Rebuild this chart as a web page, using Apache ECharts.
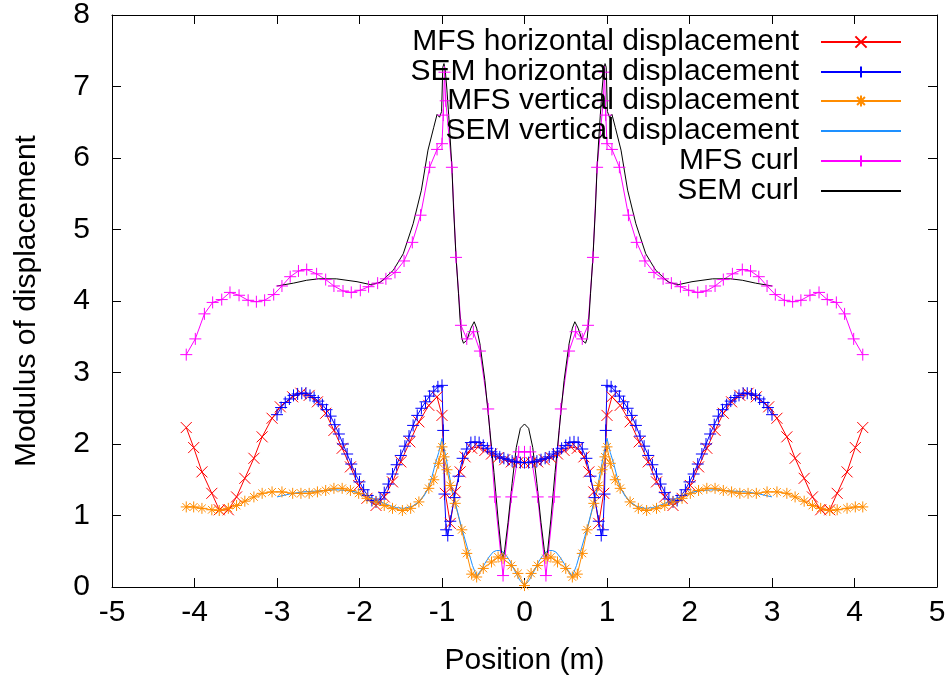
<!DOCTYPE html>
<html><head><meta charset="utf-8">
<script src="https://cdn.jsdelivr.net/npm/echarts@6/dist/echarts.min.js"></script>
<style>html,body{margin:0;padding:0;background:#fff}#c{width:951px;height:683px}</style>
</head><body><div id="c"></div>
<script>
const seriesNames = ['MFS horizontal displacement','SEM horizontal displacement','MFS vertical displacement','SEM vertical displacement','MFS curl','SEM curl'];
const xTickValues = [-5,-4,-3,-2,-1,0,1,2,3,4,5];
const yTickValues = [0,1,2,3,4,5,6,7,8];

const mfsHorizontal = [[-4.10,2.23],[-4.01,1.95],[-3.91,1.61],[-3.79,1.31],[-3.70,1.08],[-3.59,1.08],[-3.49,1.26],[-3.39,1.52],[-3.28,1.80],[-3.18,2.10],[-3.06,2.36],[-2.96,2.52],[-2.81,2.66],[-2.71,2.71],[-2.61,2.68],[-2.51,2.59],[-2.41,2.43],[-2.31,2.19],[-2.21,1.94],[-2.11,1.68],[-2.01,1.42],[-1.91,1.24],[-1.80,1.14],[-1.70,1.26],[-1.60,1.47],[-1.50,1.75],[-1.39,2.03],[-1.28,2.31],[-1.16,2.54],[-1.06,2.66],[-1.00,2.40],[-0.96,1.31],[-0.90,0.89],[-0.84,1.33],[-0.78,1.61],[-0.72,1.82],[-0.64,1.94],[-0.56,1.96],[-0.48,1.91],[-0.40,1.86],[-0.32,1.81],[-0.24,1.78],[-0.16,1.75],[-0.08,1.74],
[0.00,1.74],
[0.08,1.74],[0.16,1.75],[0.24,1.78],[0.32,1.81],[0.40,1.86],[0.48,1.91],[0.56,1.96],[0.64,1.94],[0.72,1.82],[0.78,1.61],[0.84,1.33],[0.90,0.89],[0.96,1.31],[1.00,2.40],[1.06,2.66],[1.16,2.54],[1.28,2.31],[1.39,2.03],[1.50,1.75],[1.60,1.47],[1.70,1.26],[1.80,1.14],[1.91,1.24],[2.01,1.42],[2.11,1.68],[2.21,1.94],[2.31,2.19],[2.41,2.43],[2.51,2.59],[2.61,2.68],[2.71,2.71],[2.81,2.66],[2.96,2.52],[3.06,2.36],[3.18,2.10],[3.28,1.80],[3.39,1.52],[3.49,1.26],[3.59,1.08],[3.70,1.08],[3.79,1.31],[3.91,1.61],[4.01,1.95],[4.10,2.23]];

const semHorizontal = [[-3.00,2.41],[-2.95,2.51],[-2.90,2.58],[-2.85,2.63],[-2.80,2.68],[-2.75,2.70],[-2.70,2.71],[-2.65,2.71],[-2.60,2.68],[-2.55,2.65],[-2.50,2.60],[-2.45,2.55],[-2.40,2.48],[-2.35,2.39],[-2.30,2.27],[-2.25,2.14],[-2.20,2.00],[-2.15,1.86],[-2.10,1.72],[-2.05,1.58],[-2.00,1.47],[-1.95,1.36],[-1.90,1.28],[-1.85,1.21],[-1.80,1.19],[-1.75,1.23],[-1.70,1.32],[-1.65,1.44],[-1.60,1.58],[-1.55,1.71],[-1.50,1.84],[-1.45,1.97],[-1.40,2.11],[-1.35,2.26],[-1.30,2.40],[-1.25,2.50],[-1.20,2.59],[-1.15,2.67],[-1.10,2.74],[-1.05,2.80],[-1.00,2.82],[-0.985,2.19],[-0.97,1.30],[-0.95,0.80],[-0.93,0.72],[-0.90,0.92],[-0.85,1.25],[-0.80,1.55],[-0.75,1.80],[-0.70,1.93],[-0.65,2.02],[-0.60,2.03],[-0.55,2.02],[-0.50,1.98],[-0.45,1.94],[-0.40,1.89],[-0.35,1.86],[-0.30,1.82],[-0.25,1.80],[-0.20,1.78],[-0.15,1.76],[-0.10,1.75],[-0.05,1.74],
[0.00,1.74],
[0.05,1.74],[0.10,1.75],[0.15,1.76],[0.20,1.78],[0.25,1.80],[0.30,1.82],[0.35,1.86],[0.40,1.89],[0.45,1.94],[0.50,1.98],[0.55,2.02],[0.60,2.03],[0.65,2.02],[0.70,1.93],[0.75,1.80],[0.80,1.55],[0.85,1.25],[0.90,0.92],[0.93,0.72],[0.95,0.80],[0.97,1.30],[0.985,2.19],[1.00,2.82],[1.05,2.80],[1.10,2.74],[1.15,2.67],[1.20,2.59],[1.25,2.50],[1.30,2.40],[1.35,2.26],[1.40,2.11],[1.45,1.97],[1.50,1.84],[1.55,1.71],[1.60,1.58],[1.65,1.44],[1.70,1.32],[1.75,1.23],[1.80,1.19],[1.85,1.21],[1.90,1.28],[1.95,1.36],[2.00,1.47],[2.05,1.58],[2.10,1.72],[2.15,1.86],[2.20,2.00],[2.25,2.14],[2.30,2.27],[2.35,2.39],[2.40,2.48],[2.45,2.55],[2.50,2.60],[2.55,2.65],[2.60,2.68],[2.65,2.71],[2.70,2.71],[2.75,2.70],[2.80,2.68],[2.85,2.63],[2.90,2.58],[2.95,2.51],[3.00,2.41]];

const mfsVertical = [[-4.10,1.12],[-4.01,1.12],[-3.91,1.10],[-3.79,1.08],[-3.70,1.07],[-3.59,1.10],[-3.49,1.14],[-3.39,1.20],[-3.28,1.26],[-3.18,1.31],[-3.06,1.33],[-2.94,1.33],[-2.81,1.31],[-2.71,1.31],[-2.61,1.31],[-2.51,1.33],[-2.41,1.35],[-2.31,1.38],[-2.21,1.38],[-2.11,1.35],[-2.01,1.31],[-1.91,1.24],[-1.80,1.19],[-1.70,1.14],[-1.60,1.10],[-1.48,1.07],[-1.38,1.10],[-1.28,1.19],[-1.16,1.38],[-1.10,1.50],[-1.04,1.73],[-1.00,1.96],[-0.975,1.82],[-0.94,1.64],[-0.90,1.42],[-0.84,1.17],[-0.76,0.80],[-0.70,0.47],[-0.64,0.18],[-0.58,0.14],[-0.50,0.26],[-0.40,0.35],[-0.32,0.42],[-0.26,0.40],[-0.16,0.30],[-0.08,0.19],
[0.00,0.02],
[0.08,0.19],[0.16,0.30],[0.26,0.40],[0.32,0.42],[0.40,0.35],[0.50,0.26],[0.58,0.14],[0.64,0.18],[0.70,0.47],[0.76,0.80],[0.84,1.17],[0.90,1.42],[0.94,1.64],[0.975,1.82],[1.00,1.96],[1.04,1.73],[1.10,1.50],[1.16,1.38],[1.28,1.19],[1.38,1.10],[1.48,1.07],[1.60,1.10],[1.70,1.14],[1.80,1.19],[1.91,1.24],[2.01,1.31],[2.11,1.35],[2.21,1.38],[2.31,1.38],[2.41,1.35],[2.51,1.33],[2.61,1.31],[2.71,1.31],[2.81,1.31],[2.94,1.33],[3.06,1.33],[3.18,1.31],[3.28,1.26],[3.39,1.20],[3.49,1.14],[3.59,1.10],[3.70,1.07],[3.79,1.08],[3.91,1.10],[4.01,1.12],[4.10,1.12]];

const semVertical = [[-3.00,1.26],[-2.85,1.30],[-2.69,1.33],[-2.55,1.34],[-2.41,1.35],[-2.29,1.36],[-2.17,1.35],[-2.05,1.33],[-1.94,1.29],[-1.84,1.24],[-1.74,1.19],[-1.64,1.14],[-1.55,1.11],[-1.46,1.10],[-1.36,1.13],[-1.28,1.19],[-1.22,1.27],[-1.16,1.40],[-1.12,1.55],[-1.08,1.73],[-1.04,1.88],[-1.00,2.08],[-0.95,1.80],[-0.90,1.49],[-0.84,1.18],[-0.78,0.91],[-0.73,0.70],[-0.68,0.50],[-0.63,0.30],[-0.58,0.15],[-0.53,0.23],[-0.48,0.33],[-0.43,0.42],[-0.38,0.49],[-0.34,0.51],[-0.30,0.51],[-0.26,0.49],[-0.22,0.44],[-0.17,0.35],[-0.12,0.23],[-0.06,0.10],
[0.00,0.02],
[0.06,0.10],[0.12,0.23],[0.17,0.35],[0.22,0.44],[0.26,0.49],[0.30,0.51],[0.34,0.51],[0.38,0.49],[0.43,0.42],[0.48,0.33],[0.53,0.23],[0.58,0.15],[0.63,0.30],[0.68,0.50],[0.73,0.70],[0.78,0.91],[0.84,1.18],[0.90,1.49],[0.95,1.80],[1.00,2.08],[1.04,1.88],[1.08,1.73],[1.12,1.55],[1.16,1.40],[1.22,1.27],[1.28,1.19],[1.36,1.13],[1.46,1.10],[1.55,1.11],[1.64,1.14],[1.74,1.19],[1.84,1.24],[1.94,1.29],[2.05,1.33],[2.17,1.35],[2.29,1.36],[2.41,1.35],[2.55,1.34],[2.69,1.33],[2.85,1.30],[3.00,1.26]];

const mfsCurl = [[-4.10,3.25],[-3.99,3.47],[-3.88,3.82],[-3.78,3.98],[-3.67,4.02],[-3.57,4.12],[-3.46,4.08],[-3.35,4.01],[-3.25,3.99],[-3.15,4.01],[-3.04,4.09],[-2.94,4.21],[-2.84,4.34],[-2.74,4.42],[-2.64,4.44],[-2.52,4.38],[-2.41,4.30],[-2.31,4.21],[-2.20,4.14],[-2.10,4.12],[-1.99,4.15],[-1.89,4.20],[-1.78,4.25],[-1.68,4.31],[-1.57,4.40],[-1.46,4.56],[-1.36,4.82],[-1.26,5.20],[-1.15,5.87],[-1.06,6.12],[-1.00,6.20],[-0.985,6.60],[-0.97,7.20],[-0.955,6.80],[-0.88,5.87],[-0.83,4.61],[-0.77,3.66],[-0.70,3.47],[-0.62,3.57],[-0.54,3.30],[-0.44,2.49],[-0.36,1.26],[-0.26,0.16],[-0.16,1.26],[-0.07,1.89],
[0.00,1.89],
[0.07,1.89],[0.16,1.26],[0.26,0.16],[0.36,1.26],[0.44,2.49],[0.54,3.30],[0.62,3.57],[0.70,3.47],[0.77,3.66],[0.83,4.61],[0.88,5.87],[0.955,6.80],[0.97,7.20],[0.985,6.60],[1.00,6.20],[1.06,6.12],[1.15,5.87],[1.26,5.20],[1.36,4.82],[1.46,4.56],[1.57,4.40],[1.68,4.31],[1.78,4.25],[1.89,4.20],[1.99,4.15],[2.10,4.12],[2.20,4.14],[2.31,4.21],[2.41,4.30],[2.52,4.38],[2.64,4.44],[2.74,4.42],[2.84,4.34],[2.94,4.21],[3.04,4.09],[3.15,4.01],[3.25,3.99],[3.35,4.01],[3.46,4.08],[3.57,4.12],[3.67,4.02],[3.78,3.98],[3.88,3.82],[3.99,3.47],[4.10,3.25]];

const semCurl = [[-3.00,4.21],[-2.80,4.25],[-2.64,4.29],[-2.50,4.31],[-2.28,4.31],[-2.03,4.27],[-1.87,4.23],[-1.75,4.26],[-1.59,4.43],[-1.47,4.66],[-1.35,5.08],[-1.25,5.55],[-1.17,6.11],[-1.10,6.43],[-1.06,6.61],[-1.03,6.57],[-1.005,6.65],[-0.99,7.27],[-0.976,7.32],[-0.96,7.22],[-0.94,6.95],[-0.91,6.45],[-0.88,5.87],[-0.86,5.30],[-0.83,4.62],[-0.80,4.10],[-0.78,3.73],[-0.76,3.48],[-0.74,3.41],[-0.70,3.45],[-0.65,3.62],[-0.61,3.71],[-0.58,3.62],[-0.54,3.40],[-0.48,2.89],[-0.42,2.19],[-0.37,1.60],[-0.32,0.95],[-0.28,0.50],[-0.26,0.40],[-0.24,0.52],[-0.20,0.90],[-0.15,1.45],[-0.10,1.95],[-0.05,2.22],
[0.00,2.28],
[0.05,2.22],[0.10,1.95],[0.15,1.45],[0.20,0.90],[0.24,0.52],[0.26,0.40],[0.28,0.50],[0.32,0.95],[0.37,1.60],[0.42,2.19],[0.48,2.89],[0.54,3.40],[0.58,3.62],[0.61,3.71],[0.65,3.62],[0.70,3.45],[0.74,3.41],[0.76,3.48],[0.78,3.73],[0.80,4.10],[0.83,4.62],[0.86,5.30],[0.88,5.87],[0.91,6.45],[0.94,6.95],[0.96,7.22],[0.976,7.32],[0.99,7.27],[1.005,6.65],[1.03,6.57],[1.06,6.61],[1.10,6.43],[1.17,6.11],[1.25,5.55],[1.35,5.08],[1.47,4.66],[1.59,4.43],[1.75,4.26],[1.87,4.23],[2.03,4.27],[2.28,4.31],[2.50,4.31],[2.64,4.29],[2.80,4.25],[3.00,4.21]];

const FONT = '"Liberation Sans", Arial, sans-serif';
const CROSS = 'path://M0,0L10,10M10,0L0,10';
const PLUS = 'path://M5,0L5,10M0,5L10,5';
const STAR = 'path://M5,0L5,10M0,5L10,5M1.5,1.5L8.5,8.5M8.5,1.5L1.5,8.5';

function lineSeries(name, data, color, symbol, size) {
  const s = {
    name: name, type: 'line', data: data,
    lineStyle: {color: color, width: 1},
    emphasis: {disabled: true},
    silent: true
  };
  if (symbol) {
    s.symbol = symbol; s.symbolSize = size; s.showAllSymbol = true; s.showSymbol = true;
    s.itemStyle = {color: color, borderColor: color, borderWidth: 1};
  } else {
    s.symbol = 'circle'; s.symbolSize = 2; s.showSymbol = false;
    s.itemStyle = {color: 'rgba(0,0,0,0)', borderColor: 'rgba(0,0,0,0)', borderWidth: 0};
  }
  return s;
}

const axisLineStyle = {show: true, onZero: false, lineStyle: {color: '#000', width: 1}};
const tickStyle = {show: true, inside: true, length: 9, lineStyle: {color: '#000', width: 1}};
const labelFont = {fontSize: 30, color: '#000', fontFamily: FONT};

const legendTops = [27, 57, 86, 116, 146, 176];
const legends = seriesNames.map((n, i) => ({
  id: 'lg' + i,
  data: [n], right: 49, top: legendTops[i], orient: 'vertical', align: 'right',
  padding: 0, itemWidth: 80, itemHeight: 14, selectedMode: false,
  textStyle: {fontSize: 30, color: '#000', fontFamily: FONT, padding: [0, 17, 0, 0]}
}));

const chart = echarts.init(document.getElementById('c'), null, {renderer: 'canvas'});
chart.setOption({
  animation: false,
  backgroundColor: '#fff',
  grid: {left: 112, right: 14, top: 15, bottom: 96, containLabel: false},
  legend: legends,
  xAxis: [
    {type: 'value', min: xTickValues[0], max: xTickValues[xTickValues.length-1], interval: 1, position: 'bottom',
     name: 'Position (m)', nameLocation: 'middle', nameGap: 59, nameTextStyle: labelFont,
     axisLine: axisLineStyle, axisTick: tickStyle, axisLabel: Object.assign({margin: 11}, labelFont), splitLine: {show: false}},
    {type: 'value', min: xTickValues[0], max: xTickValues[xTickValues.length-1], interval: 1, position: 'top',
     axisLine: axisLineStyle, axisTick: tickStyle, axisLabel: {show: false}, splitLine: {show: false}}
  ],
  yAxis: [
    {type: 'value', min: yTickValues[0], max: yTickValues[yTickValues.length-1], interval: 1, position: 'left',
     name: 'Modulus of displacement', nameLocation: 'middle', nameGap: 70, nameTextStyle: labelFont,
     axisLine: axisLineStyle, axisTick: tickStyle, axisLabel: Object.assign({margin: 22}, labelFont), splitLine: {show: false}},
    {type: 'value', min: yTickValues[0], max: yTickValues[yTickValues.length-1], interval: 1, position: 'right',
     axisLine: axisLineStyle, axisTick: tickStyle, axisLabel: {show: false}, splitLine: {show: false}}
  ],
  series: [
    lineSeries(seriesNames[0], mfsHorizontal, '#ff0000', CROSS, 11),
    lineSeries(seriesNames[1], semHorizontal, '#0000ff', PLUS, 12),
    lineSeries(seriesNames[2], mfsVertical, '#ff8c00', STAR, 11),
    lineSeries(seriesNames[3], semVertical, '#1e90ff', null, 0),
    lineSeries(seriesNames[4], mfsCurl, '#ff00ff', PLUS, 12),
    lineSeries(seriesNames[5], semCurl, '#000000', null, 0)
  ]
});
</script>
</body></html>
